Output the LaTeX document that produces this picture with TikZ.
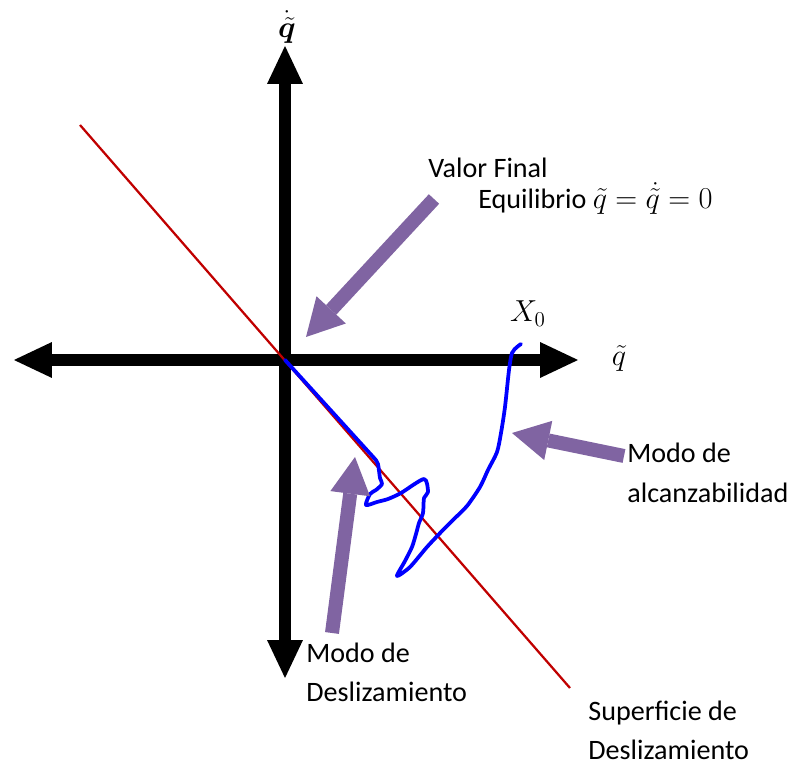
\documentclass[tikz,border=0pt]{standalone}
\usepackage{amsmath,bm}
\usepackage{fontspec}
\setmainfont{Carlito}
\usetikzlibrary{arrows.meta}
\definecolor{ptrfill}{HTML}{8064A2}
\definecolor{surfedge}{HTML}{C00000}
\definecolor{trajedge}{HTML}{0000FF}

\begin{document}
\begin{tikzpicture}[x=0.02cm, y=-0.02cm,
  axis/.style={draw=black, line width=0.26cm,
               {Triangle[length=0.76cm, width=0.72cm, line width=0pt]}-{Triangle[length=0.76cm, width=0.72cm, line width=0pt]}},
  ptr/.style={draw=ptrfill, line width=0.28cm,
              -{Triangle[length=0.74cm, width=0.80cm, line width=0pt]}},
  surf/.style={draw=surfedge, line width=0.045cm},
  traj/.style={draw=trajedge, line width=0.075cm, line join=round, line cap=round},
  lab/.style={font=\fontsize{16}{22.7}\selectfont, align=left, inner sep=0pt, anchor=base west},
  mlab/.style={font=\fontsize{17}{19}\selectfont, inner sep=0pt, anchor=base},
]
\useasboundingbox (0,0) rectangle (796,767);

% phase-plane axes
\coordinate (origin) at (285,360);
\coordinate (x_neg) at (14,360);
\coordinate (x_pos) at (578,360);
\coordinate (y_pos) at (285,46);
\coordinate (y_neg) at (285,678);
\draw[axis] (x_neg) -- (x_pos);
\draw[axis] (y_neg) -- (y_pos);

% sliding surface
\coordinate (surf_top) at (80,125);
\coordinate (surf_bot) at (570,688);
\draw[surf] (surf_top) -- (surf_bot);

% trajectory from X0 back to the origin
\draw[traj] (origin) -- (375,459)
  plot[smooth, tension=0.45] coordinates {(375,459) (378,464) (380,478) (382,484)
    (376,490) (370,494) (366,505) (377,502) (388,499) (401,493) (424,479) (428,492)
    (424,498) (423,513) (419,523) (416,534) (412,547) (405,561) (397,576) (410,567)
    (427,547) (443,530) (454,519) (467,506) (480,487) (488,470) (497,452) (501,433)
    (505,407) (509,370) (512,353) (517,347) (521,344)};

% labels (multi-line nodes sit on the baseline of their last line)
\node[mlab] (ydot_lab) at (287,38) {$\bm{\dot{\tilde{q}}}$};
\node[mlab] (x_lab) at (619,366) {$\tilde{q}$};
\node[mlab] (x0_lab) at (528,322) {$X_0$};
\node[lab] (final_lab) at (428,178) {Valor Final};
\node[lab] (equil_lab) at (478,209) {Equilibrio {\fontsize{17}{19}\selectfont$\tilde{q}=\dot{\tilde{q}}=0$}};
\node[lab] (reach_lab) at (627,502) {Modo de\\alcanzabilidad};
\node[lab] (slide_lab) at (306,702) {Modo de\\Deslizamiento};
\node[lab] (surf_lab) at (588,760) {Superficie de\\Deslizamiento};

% pointers
\coordinate (final_tail) at (434,199);
\coordinate (final_tip) at (306,337);
\coordinate (reach_tail) at (624,456);
\coordinate (reach_tip) at (512,433);
\coordinate (slide_tail) at (332,633);
\coordinate (slide_tip) at (355,457);
\draw[ptr] (final_tail) -- (final_tip);
\draw[ptr] (reach_tail) -- (reach_tip);
\draw[ptr] (slide_tail) -- (slide_tip);
\end{tikzpicture}
\end{document}
